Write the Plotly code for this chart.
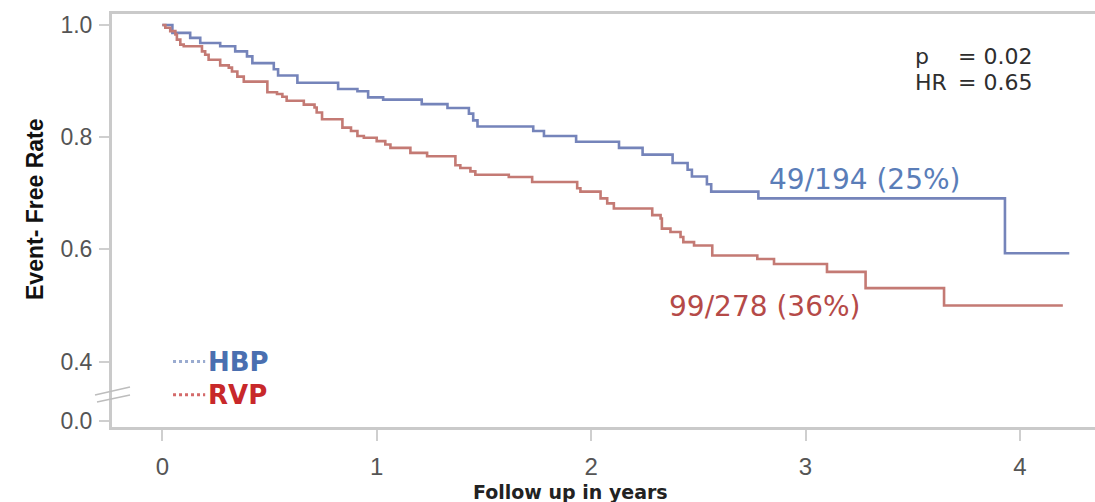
import plotly.graph_objects as go

# ---------------- data ----------------
hbp_time = [0, 0.047, 0.13, 0.177, 0.27, 0.34, 0.395, 0.42, 0.52, 0.54, 0.63, 0.82, 0.91, 0.96,
            1.03, 1.21, 1.33, 1.43, 1.45, 1.47, 1.73, 1.78, 1.93, 2.13, 2.24, 2.38, 2.45, 2.47,
            2.54, 2.56, 2.78, 3.93, 4.23]
hbp_surv = [1.0, 0.986, 0.977, 0.968, 0.962, 0.953, 0.944, 0.932, 0.921, 0.910, 0.897, 0.886, 0.882, 0.871,
            0.867, 0.859, 0.852, 0.842, 0.830, 0.819, 0.811, 0.802, 0.792, 0.781, 0.769, 0.754, 0.742, 0.730,
            0.716, 0.703, 0.691, 0.593, 0.593]

rvp_time = [0, 0.014, 0.037, 0.061, 0.068, 0.084, 0.10, 0.185, 0.20, 0.216, 0.27, 0.31, 0.325, 0.35,
            0.38, 0.49, 0.535, 0.56, 0.58, 0.66, 0.71, 0.72, 0.745, 0.84, 0.88, 0.91, 0.94, 1.00,
            1.04, 1.064, 1.157, 1.235, 1.367, 1.39, 1.437, 1.46, 1.616, 1.725, 1.935, 1.95, 2.044,
            2.075, 2.106, 2.285, 2.324, 2.33, 2.37, 2.417, 2.43, 2.48, 2.565, 2.775, 2.853, 3.10,
            3.28, 3.646, 4.20]
rvp_surv = [1.0, 0.995, 0.989, 0.983, 0.974, 0.965, 0.962, 0.953, 0.947, 0.938, 0.928, 0.924, 0.917, 0.908,
            0.899, 0.880, 0.877, 0.872, 0.865, 0.858, 0.853, 0.844, 0.832, 0.817, 0.811, 0.802, 0.799, 0.793,
            0.787, 0.781, 0.772, 0.766, 0.750, 0.745, 0.739, 0.733, 0.729, 0.720, 0.709, 0.703, 0.691,
            0.682, 0.673, 0.661, 0.655, 0.637, 0.631, 0.622, 0.613, 0.607, 0.589, 0.583, 0.574, 0.560,
            0.531, 0.500, 0.500]

group_names = ["HBP", "RVP"]
event_labels = ["49/194 (25%)", "99/278 (36%)"]
stat_labels = ["p", "HR"]
stat_values = ["= 0.02", "= 0.65"]

x_tick_vals = [0, 1, 2, 3, 4]
x_tick_text = ["0", "1", "2", "3", "4"]
# the 0.0 tick sits below an axis break, drawn at a compressed position
y_tick_vals = [0.2937, 0.4, 0.6, 0.8, 1.0]
y_tick_text = ["0.0", "0.4", "0.6", "0.8", "1.0"]

# ---------------- styles ----------------
BLUE_LINE = "#7584ba"
RED_LINE = "#c47a74"
BLUE_TXT = "#5a7db8"
RED_TXT = "#b54a48"
AXIS_COL = "#cacaca"
TICK_FONT = "Liberation Sans, Arial, sans-serif"
PLOT_W = 1095 - 112

fig = go.Figure()
fig.add_trace(go.Scatter(x=hbp_time, y=hbp_surv, mode="lines", line_shape="hv",
                         line=dict(color=BLUE_LINE, width=2.6), name=group_names[0], showlegend=False))
fig.add_trace(go.Scatter(x=rvp_time, y=rvp_surv, mode="lines", line_shape="hv",
                         line=dict(color=RED_LINE, width=2.6), name=group_names[1], showlegend=False))

annotations = [
    dict(x=3.277, y=0.724, xref="x", yref="y", text=event_labels[0], showarrow=False,
         font=dict(family="DejaVu Sans", size=28, color=BLUE_TXT)),
    dict(x=2.810, y=0.498, xref="x", yref="y", text=event_labels[1], showarrow=False,
         font=dict(family="DejaVu Sans", size=28, color=RED_TXT)),
    dict(x=3.502, y=0.943, xref="x", yref="y", text=stat_labels[0], showarrow=False, xanchor="left",
         font=dict(family="DejaVu Sans", size=22, color="#2e2e2e")),
    dict(x=3.502, y=0.897, xref="x", yref="y", text=stat_labels[1], showarrow=False, xanchor="left",
         font=dict(family="DejaVu Sans", size=22, color="#2e2e2e")),
    dict(x=3.700, y=0.943, xref="x", yref="y", text=stat_values[0], showarrow=False, xanchor="left",
         font=dict(family="DejaVu Sans", size=22, color="#2e2e2e")),
    dict(x=3.700, y=0.897, xref="x", yref="y", text=stat_values[1], showarrow=False, xanchor="left",
         font=dict(family="DejaVu Sans", size=22, color="#2e2e2e")),
    # legend text
    dict(x=0.205, y=0.400, xref="x", yref="y", text="<b>" + group_names[0] + "</b>", showarrow=False,
         xanchor="left", font=dict(family="DejaVu Sans", size=26, color="#4a6fb0")),
    dict(x=0.205, y=0.341, xref="x", yref="y", text="<b>" + group_names[1] + "</b>", showarrow=False,
         xanchor="left", font=dict(family="DejaVu Sans", size=26, color="#c8282a")),
    # axis titles
    dict(x=(35 - 112) / PLOT_W, y=0.672, xref="paper", yref="y", text="<b>Event- Free Rate</b>",
         showarrow=False, textangle=-90, xanchor="center", yanchor="middle",
         font=dict(family=TICK_FONT, size=23, color="#111111")),
    dict(x=1.906, y=-0.157, xref="x", yref="paper", text="<b>Follow up in years</b>", showarrow=False,
         xanchor="center", yanchor="middle", font=dict(family="DejaVu Sans", size=19, color="#222222")),
]

shapes = [
    # legend keys
    dict(type="line", xref="x", yref="y", x0=0.05, x1=0.20, y0=0.400, y1=0.400,
         line=dict(color="#9aabd0", width=3, dash="dot")),
    dict(type="line", xref="x", yref="y", x0=0.05, x1=0.20, y0=0.341, y1=0.341,
         line=dict(color="#d46a6a", width=3, dash="dot")),
    # axis-break marks
    dict(type="line", xref="paper", yref="y", x0=(95 - 112) / PLOT_W, x1=(130 - 112) / PLOT_W,
         y0=0.3405, y1=0.3547, line=dict(color="#bdbdbd", width=1.5)),
    dict(type="line", xref="paper", yref="y", x0=(97 - 112) / PLOT_W, x1=(130 - 112) / PLOT_W,
         y0=0.3280, y1=0.3405, line=dict(color="#bdbdbd", width=1.5)),
]

fig.update_layout(
    width=1095, height=502,
    margin=dict(l=112, r=0, t=14, b=74.5),
    plot_bgcolor="white", paper_bgcolor="white",
    showlegend=False,
    annotations=annotations, shapes=shapes,
    xaxis=dict(range=[-0.2346, 4.350], tickvals=x_tick_vals, ticktext=x_tick_text,
               showgrid=False, zeroline=False, showline=True, linecolor=AXIS_COL, linewidth=3,
               mirror=True, ticks="outside", ticklen=11, tickwidth=2, tickcolor="#cfcfcf",
               automargin=False,
               tickfont=dict(family=TICK_FONT, size=24, color="#555555"), ticklabelstandoff=5),
    yaxis=dict(range=[0.2834, 1.0196], tickvals=y_tick_vals, ticktext=y_tick_text,
               showgrid=False, zeroline=False, showline=True, linecolor=AXIS_COL, linewidth=3,
               ticks="outside", ticklen=10, tickwidth=2, tickcolor="#cfcfcf",
               automargin=False,
               tickfont=dict(family=TICK_FONT, size=23, color="#555555"), ticklabelstandoff=2),
)

fig.write_html("out.html", config={"displayModeBar": False},
               post_script="document.body.style.margin='0';")
